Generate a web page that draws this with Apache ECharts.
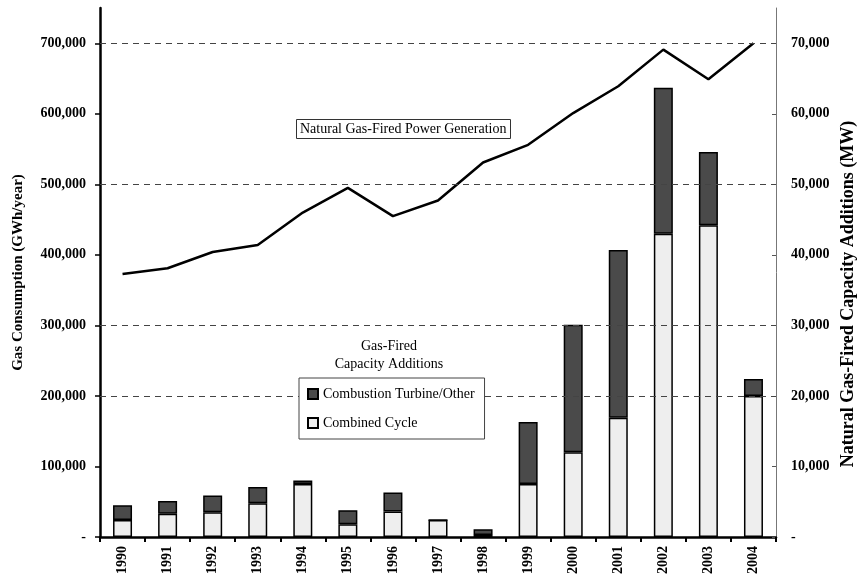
<!DOCTYPE html>
<html>
<head>
<meta charset="utf-8">
<script src="https://cdn.jsdelivr.net/npm/echarts@6/dist/echarts.min.js"></script>
<style>html,body{margin:0;padding:0;background:#fff}#c{width:857px;height:577px}</style>
</head>
<body>
<div id="c"></div>
<script>
const years = ['1990','1991','1992','1993','1994','1995','1996','1997','1998','1999','2000','2001','2002','2003','2004'];
const generationGWh = [373000, 381000, 404000, 414000, 460000, 495000, 455000, 477000, 531000, 556000, 601000, 639000, 691000, 649000, 700000];
const combinedCycleMW = [2400, 3300, 3500, 4800, 7500, 1800, 3600, 2400, 300, 7500, 12000, 16900, 43000, 44200, 20000];
const combustionTurbineMW = [2100, 1800, 2400, 2300, 500, 2000, 2700, 0, 800, 8800, 18100, 23800, 20700, 10400, 2400];
const leftTicks = [0, 100000, 200000, 300000, 400000, 500000, 600000, 700000];
const rightTicks = [0, 10000, 20000, 30000, 40000, 50000, 60000, 70000];
const dashedGrid = [200000, 300000, 500000, 700000];

const FONT = '"Liberation Serif", "Times New Roman", serif';
const fmt = v => v === 0 ? '-' : v.toLocaleString('en-US');

const chart = echarts.init(document.getElementById('c'));
chart.setOption({
  animation: false,
  backgroundColor: '#fff',
  textStyle: { fontFamily: FONT, color: '#000' },
  grid: { left: 100, right: 81, top: 8, bottom: 40, containLabel: false, outerBoundsMode: 'none' },
  title: [{
    text: 'Natural Gas-Fired Power Generation',
    left: 296, top: 119,
    padding: [3, 4, 3, 4],
    borderColor: '#333', borderWidth: 1,
    textStyle: { fontFamily: FONT, fontSize: 14, fontWeight: 'normal', color: '#000' }
  }],
  graphic: [{
    type: 'text', x: 389, y: 339,
    style: { text: 'Gas-Fired', align: 'center', verticalAlign: 'top', font: '14px ' + FONT, fill: '#000' }
  }, {
    type: 'text', x: 389, y: 357,
    style: { text: 'Capacity Additions', align: 'center', verticalAlign: 'top', font: '14px ' + FONT, fill: '#000' }
  }, {
    type: 'text', x: 848, y: 294, rotation: Math.PI / 2,
    style: { text: 'Natural Gas-Fired Capacity Additions (MW)', align: 'center', verticalAlign: 'middle',
      font: 'bold 18px ' + FONT, fill: '#000' }
  }],
  legend: {
    orient: 'vertical', left: 299, top: 378,
    padding: [9, 10, 9, 8], itemGap: 15,
    itemWidth: 10, itemHeight: 10, icon: 'rect',
    borderColor: '#444', borderWidth: 1, backgroundColor: '#fff', z: 10,
    textStyle: { fontFamily: FONT, fontSize: 14, color: '#000' },
    data: ['Combustion Turbine/Other', 'Combined Cycle']
  },
  xAxis: {
    type: 'category', data: years, boundaryGap: true,
    axisLine: { lineStyle: { color: '#000', width: 2.5 } },
    axisTick: { show: true, length: 5, lineStyle: { color: '#000', width: 2 } },
    axisLabel: { rotate: 90, margin: 9, fontFamily: FONT, fontSize: 14, fontWeight: 'bold', color: '#000' }
  },
  yAxis: [{
    type: 'value', min: 0, max: 750000, interval: 100000,
    name: 'Gas Consumption (GWh/year)', nameLocation: 'middle', nameRotate: 90, nameGap: 74,
    nameTextStyle: { fontFamily: FONT, fontSize: 15, fontWeight: 'bold', color: '#000' },
    axisLine: { show: true, lineStyle: { color: '#000', width: 2.5 } },
    axisTick: { show: true, length: 5, customValues: leftTicks, lineStyle: { color: '#000', width: 1.5 } },
    axisLabel: { customValues: leftTicks, formatter: fmt, margin: 14, fontFamily: FONT, fontSize: 14, fontWeight: 'bold', color: '#000' },
    splitLine: { show: false }
  }, {
    type: 'value', min: 0, max: 75000, interval: 10000, position: 'right',
    axisLine: { show: true, lineStyle: { color: '#777', width: 1 } },
    axisTick: { show: true, inside: true, length: 4, customValues: rightTicks, lineStyle: { color: '#555', width: 1 } },
    axisLabel: { customValues: rightTicks, formatter: fmt, margin: 15, fontFamily: FONT, fontSize: 14, fontWeight: 'bold', color: '#000' },
    splitLine: { show: false }
  }],
  series: [{
    name: 'Combined Cycle', type: 'bar', stack: 'cap', yAxisIndex: 1, barWidth: 19, z: 3,
    data: combinedCycleMW,
    itemStyle: { color: '#eeeeee', borderColor: '#000', borderWidth: 1.5 }
  }, {
    name: 'Combustion Turbine/Other', type: 'bar', stack: 'cap', yAxisIndex: 1, barWidth: 19, z: 3,
    data: combustionTurbineMW,
    itemStyle: { color: '#4a4a4a', borderColor: '#000', borderWidth: 1.5 }
  }, {
    name: 'Generation', type: 'line', yAxisIndex: 0, z: 2,
    data: generationGWh, showSymbol: false, symbol: 'none',
    lineStyle: { color: '#000', width: 2.5 },
    markLine: {
      silent: true, symbol: 'none', label: { show: false },
      lineStyle: { color: '#444', width: 1, type: [6, 5] },
      data: dashedGrid.map(v => ({ yAxis: v }))
    }
  }]
});
</script>
</body>
</html>
